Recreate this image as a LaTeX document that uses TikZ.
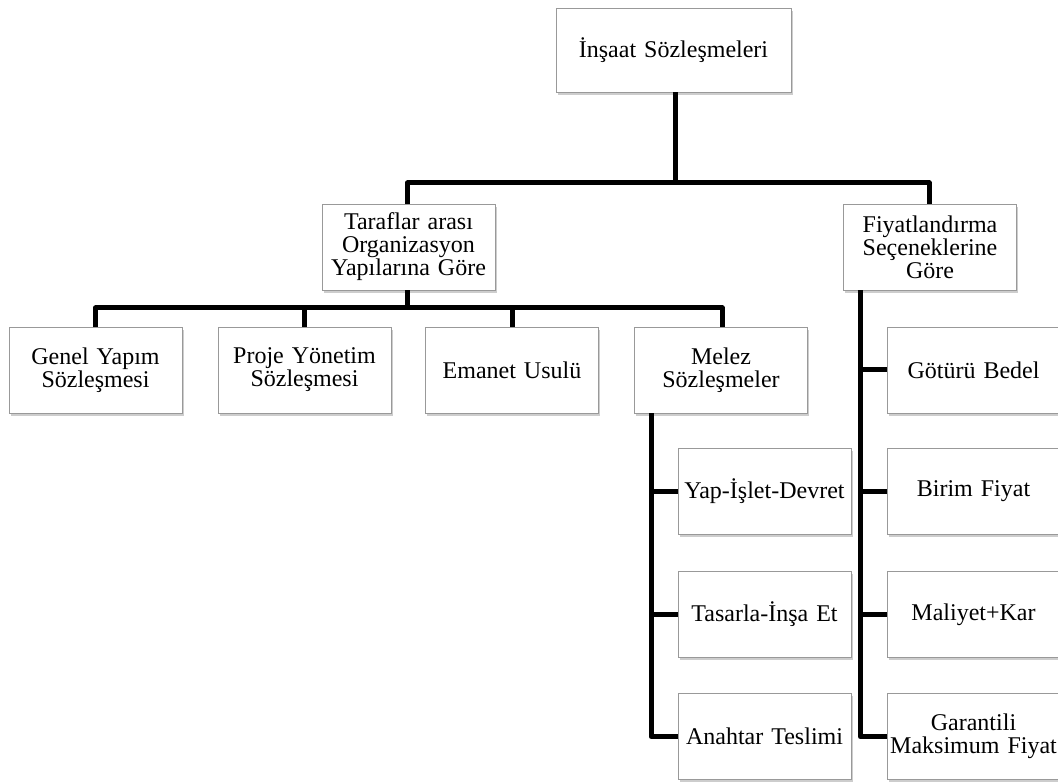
\documentclass[tikz,border=0pt]{standalone}
\usepackage{fontspec}
\setmainfont{Liberation Serif}
\usetikzlibrary{shadows}
\begin{document}
\begin{tikzpicture}[x=1pt,y=1pt,
  boxstyle/.style={draw=black!40, line width=0.8pt, fill=white,
    minimum width=173pt, minimum height=86pt, text width=171pt,
    align=center, inner sep=0pt, font=\fontsize{24}{23}\selectfont,
    drop shadow={shadow xshift=1.5pt, shadow yshift=-3pt, opacity=0.28, fill=black!70}},
  conn/.style={line width=5pt, line join=round, line cap=butt}]
\useasboundingbox (0,0) rectangle (1058,783);
\clip (0,0) rectangle (1058,783);
\fill[white] (0,0) rectangle (1058,783);
% boxes
\node[boxstyle, minimum width=235pt, minimum height=84pt, text width=233pt] (top) at (673.5,733) {İnşaat Sözleşmeleri};
\node[boxstyle] (tar) at (408.5,536) {Taraflar arası\\Organizasyon\\Yapılarına Göre};
\node[boxstyle] (fiy) at (930,536) {Fiyatlandırma\\Seçeneklerine\\Göre};
\node[boxstyle] (gen) at (95.5,413) {Genel Yapım\\Sözleşmesi};
\node[boxstyle] (pro) at (304.5,413) {Proje Yönetim\\Sözleşmesi};
\node[boxstyle] (ema) at (512,413) {Emanet Usulü};
\node[boxstyle] (mel) at (721,413) {Melez\\Sözleşmeler};
\node[boxstyle] (yap) at (764.5,291.5) {Yap-İşlet-Devret};
\node[boxstyle] (tas) at (764.5,168.5) {Tasarla-İnşa Et};
\node[boxstyle] (ana) at (764.5,46.5) {Anahtar Teslimi};
\node[boxstyle] (got) at (973.5,413) {Götürü Bedel};
\node[boxstyle] (bir) at (973.5,291.5) {Birim Fiyat};
\node[boxstyle] (mal) at (973.5,168.5) {Maliyet+Kar};
\node[boxstyle] (gar) at (973.5,46.5) {Garantili\\Maksimum Fiyat};
% connectors
\coordinate (b1) at (675,600);
\coordinate (b2) at (407.5,475);
\draw[conn] ([xshift=1.5pt]top.south) -- ([xshift=1.5pt]top.south |- b1);
\draw[conn] ([xshift=-1pt]tar.north) |- (b1) -| ([xshift=-1pt]fiy.north);
\draw[conn] ([xshift=-1pt]tar.south) -- ([xshift=-1pt]tar.south |- b2);
\draw[conn] (gen.north) |- (b2) -| ([xshift=1pt]mel.north);
\draw[conn] (pro.north) -- (pro.north |- b2);
\draw[conn] (ema.north) -- (ema.north |- b2);
\coordinate (md) at ([xshift=17pt]mel.south west);
\draw[conn] (md) |- (ana.west);
\draw[conn] (yap.west) -- (yap.west -| md);
\draw[conn] (tas.west) -- (tas.west -| md);
\coordinate (fd) at ([xshift=17pt]fiy.south west);
\draw[conn] (fd) |- (gar.west);
\draw[conn] (got.west) -- (got.west -| fd);
\draw[conn] (bir.west) -- (bir.west -| fd);
\draw[conn] (mal.west) -- (mal.west -| fd);
\end{tikzpicture}
\end{document}
